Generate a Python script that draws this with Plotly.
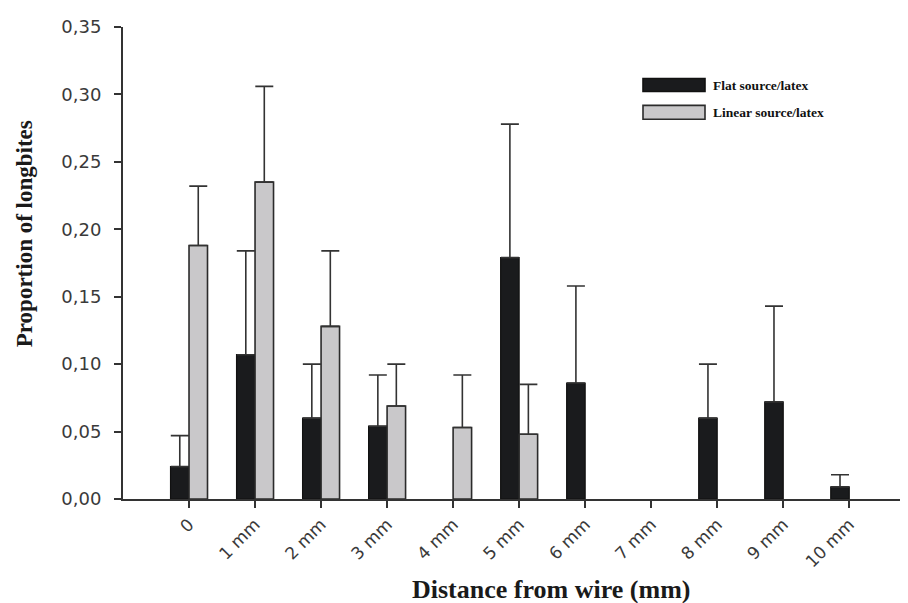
import plotly.graph_objects as go

categories = ["0", "1 mm", "2 mm", "3 mm", "4 mm", "5 mm", "6 mm", "7 mm", "8 mm", "9 mm", "10 mm"]
flat_mean = [0.024, 0.107, 0.060, 0.054, None, 0.179, 0.086, None, 0.060, 0.072, 0.009]
flat_err = [0.023, 0.077, 0.040, 0.038, None, 0.099, 0.072, None, 0.040, 0.071, 0.009]
linear_mean = [0.188, 0.235, 0.128, 0.069, 0.053, 0.048, None, None, None, None, None]
linear_err = [0.044, 0.071, 0.056, 0.031, 0.039, 0.037, None, None, None, None, None]
y_ticks = [0, 0.05, 0.10, 0.15, 0.20, 0.25, 0.30, 0.35]
series_names = ["Flat source/latex", "Linear source/latex"]

FLAT_C = "#1a1b1d"
LIN_C = "#c9c8ca"
EDGE = "#2b2b2b"

OFF = 8  # page body margin
W, H = 908, 603
# plot area in window pixels: x 123..908, y 23..499
L = 123 - OFF
T = 23 - OFF
R = W - (908 - OFF)
B = H - (499 - OFF)
pw, ph = W - L - R, H - T - B


def px_x(xw):
    return (xw - OFF - L) / pw


def px_y(yw):
    return (H - B - (yw - OFF)) / ph


fig = go.Figure()
fig.add_trace(go.Bar(
    x=categories, y=flat_mean, name=series_names[0],
    marker=dict(color=FLAT_C, line=dict(color="#111111", width=1.2)),
    error_y=dict(type="data", symmetric=False, array=flat_err,
                 arrayminus=[0 if v is not None else None for v in flat_err],
                 color="#333333", thickness=1.6, width=9),
))
fig.add_trace(go.Bar(
    x=categories, y=linear_mean, name=series_names[1],
    marker=dict(color=LIN_C, line=dict(color=EDGE, width=1.6)),
    error_y=dict(type="data", symmetric=False, array=linear_err,
                 arrayminus=[0 if v is not None else None for v in linear_err],
                 color="#333333", thickness=1.6, width=9),
))

fig.update_layout(
    width=W, height=H,
    margin=dict(l=L, r=R, t=T, b=B, pad=0),
    paper_bgcolor="white", plot_bgcolor="white",
    barmode="group", bargap=0.44, bargroupgap=0.0,
    showlegend=False,
    separators=", ",
    xaxis=dict(
        type="category", range=[-1, 10.89],
        showline=True, linecolor="#333333", linewidth=2,
        ticks="outside", ticklen=7, tickwidth=1.6, tickcolor="#333333",
        tickangle=-45, tickfont=dict(family="DejaVu Sans", size=17, color="#3a3a3a"),
        showgrid=False, zeroline=False,
    ),
    yaxis=dict(
        range=[0, 0.35], tickvals=y_ticks, tickformat=".2f",
        showline=True, linecolor="#333333", linewidth=2,
        ticks="outside", ticklen=7, tickwidth=1.6, tickcolor="#333333",
        tickfont=dict(family="DejaVu Sans", size=18, color="#3a3a3a"),
        ticklabelstandoff=9,
        showgrid=False, zeroline=False,
    ),
)

fig.add_annotation(
    text="<b>Distance from wire (mm)</b>", xref="paper", yref="paper",
    x=px_x(551), y=px_y(590), xanchor="center", yanchor="middle",
    showarrow=False,
    font=dict(family="Liberation Serif", size=26, color="#1a1a1a"),
)
fig.add_annotation(
    text="<b>Proportion of longbites</b>", xref="paper", yref="paper",
    x=px_x(24), y=px_y(232), xanchor="center", yanchor="middle",
    textangle=-90, showarrow=False,
    font=dict(family="Liberation Serif", size=23, color="#1a1a1a"),
)

# legend drawn manually
legend_rows = [(FLAT_C, "#111111", 75, 88, series_names[0]),
               (LIN_C, EDGE, 102, 116, series_names[1])]
for fill, edge, y0, y1, label in legend_rows:
    fig.add_shape(type="rect", xref="paper", yref="paper",
                  x0=px_x(643), x1=px_x(705), y0=px_y(y1), y1=px_y(y0),
                  fillcolor=fill, line=dict(color=edge, width=1.6))
    fig.add_annotation(text="<b>" + label + "</b>", xref="paper", yref="paper",
                       x=px_x(711), y=px_y((y0 + y1) / 2), xanchor="left", yanchor="middle",
                       showarrow=False,
                       font=dict(family="Liberation Serif", size=13.5, color="#111111"))

fig.write_html("out.html")
